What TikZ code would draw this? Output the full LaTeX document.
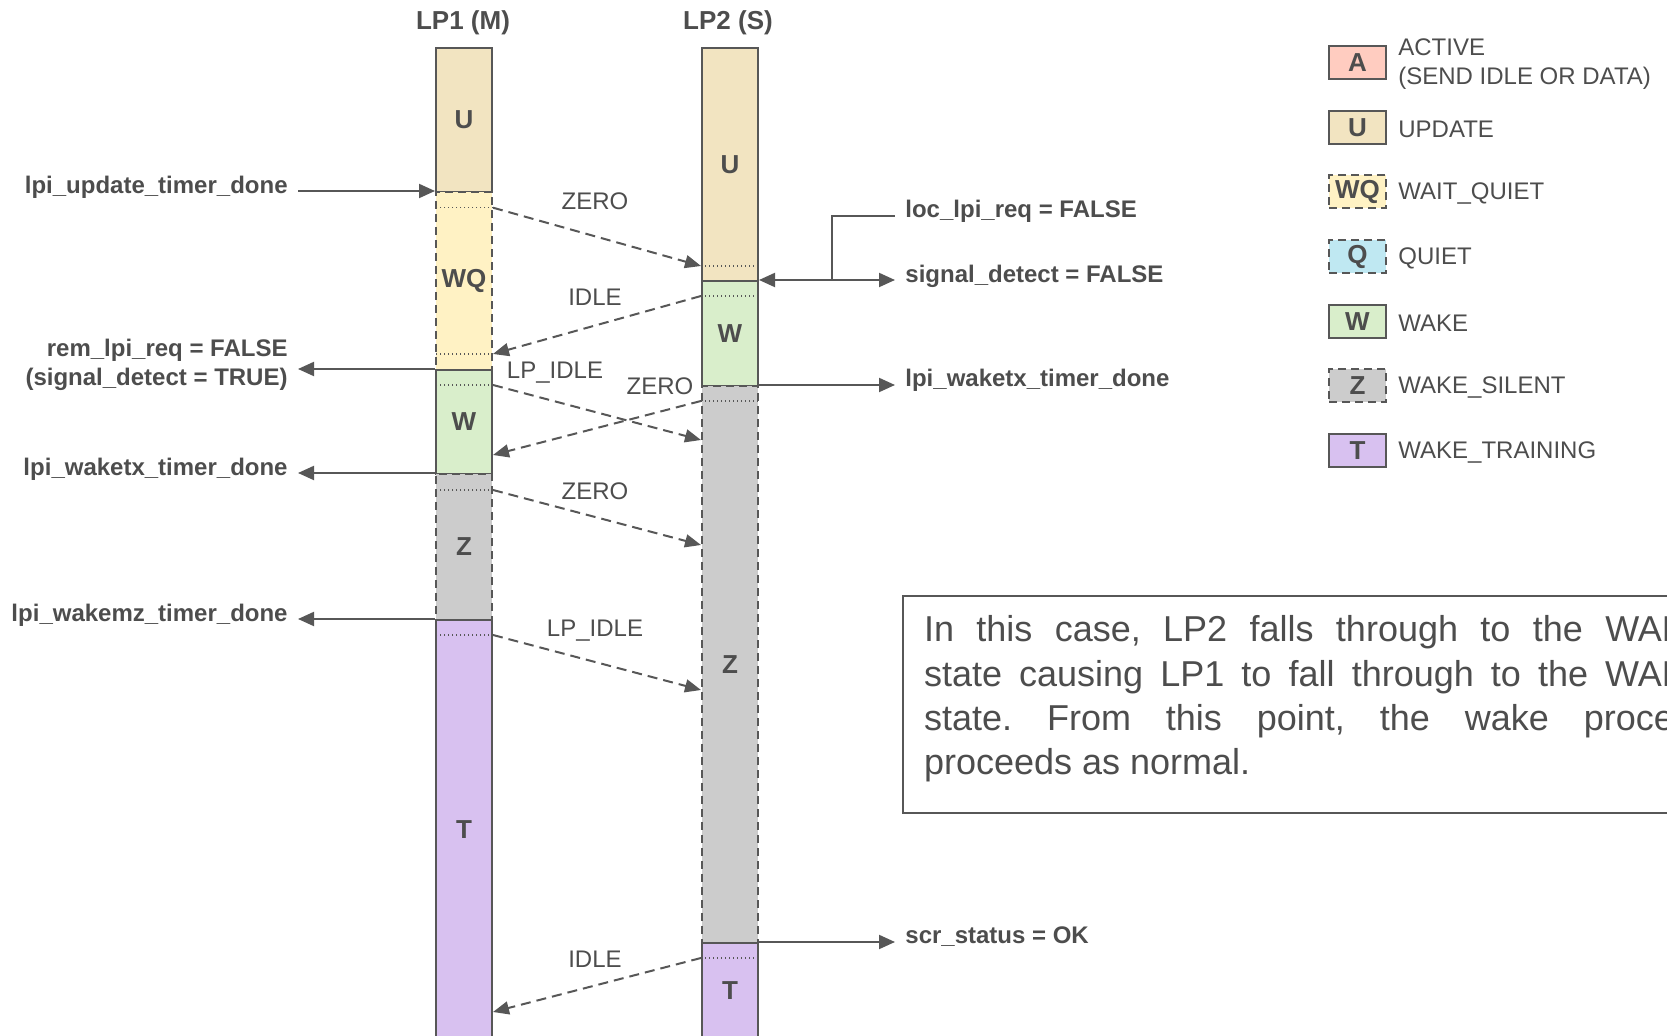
\documentclass[tikz,border=0pt]{standalone}
\usepackage{fontspec}
\setmainfont{Liberation Sans}
\usetikzlibrary{arrows.meta,calc}
\frenchspacing

\definecolor{ink}{HTML}{4D4D4D}
\definecolor{rule}{HTML}{575757}
\definecolor{fillA}{HTML}{FFCCC0}
\definecolor{fillU}{HTML}{F2E4C1}
\definecolor{fillWQ}{HTML}{FFF2C4}
\definecolor{fillQ}{HTML}{BFE8F2}
\definecolor{fillW}{HTML}{D9EECB}
\definecolor{fillZ}{HTML}{CCCCCC}
\definecolor{fillT}{HTML}{D8C1F0}

\tikzset{
  seg/.style={draw=rule,line width=1pt,minimum width=28pt,inner sep=0pt,
    font=\fontsize{13}{13}\selectfont\bfseries},
  quiet/.style={dash pattern=on 4pt off 2.5pt},
  stA/.style={fill=fillA},
  stU/.style={fill=fillU},
  stWQ/.style={fill=fillWQ,quiet},
  stQ/.style={fill=fillQ,quiet},
  stW/.style={fill=fillW},
  stZ/.style={fill=fillZ,quiet},
  stT/.style={fill=fillT},
  tickline/.style={draw=rule,line width=0.6pt,dash pattern=on 0.6pt off 1.4pt},
  msg/.style={draw=rule,line width=1pt,dash pattern=on 5pt off 3pt,
    -{Triangle[length=8pt,width=6.5pt]}},
  sig/.style={draw=rule,line width=1pt,-{Triangle[length=8pt,width=7pt]}},
  sigboth/.style={draw=rule,line width=1pt,
    {Triangle[length=8pt,width=7pt]}-{Triangle[length=8pt,width=7pt]}},
  msglbl/.style={inner sep=0pt,font=\fontsize{12}{14.5}\selectfont},
  condlbl/.style={inner xsep=5pt,inner ysep=0pt,font=\fontsize{12}{14.5}\selectfont\bfseries},
  keytxt/.style={inner sep=0pt,align=left,font=\fontsize{12}{14.5}\selectfont},
}

% one state block of a timeline: name, style, left x, top y, bottom y, letter
\newcommand\stateseg[6]{%
  \node[seg,#2,minimum height={(#5-#4)*0.5pt},anchor=north west] (#1) at (#3,#4) {#6};}

\begin{document}
\begin{tikzpicture}[x=0.5pt,y=-0.5pt,text=ink]
  \useasboundingbox (0,0) rectangle (1667,1036);
  \clip (0,0) rectangle (1667,1036);

  % the two link partners
  \node[anchor=base,font=\fontsize{13}{13}\selectfont\bfseries] (lp1) at (463,29.5) {LP1 (M)};
  \node[anchor=base,font=\fontsize{13}{13}\selectfont\bfseries] (lp2) at (728,29.5) {LP2 (S)};

  \stateseg{m-u}{stU}{435}{47}{191}{U}
  \stateseg{m-wq}{stWQ}{435}{191}{369}{WQ}
  \stateseg{m-w}{stW}{435}{369}{473}{W}
  \stateseg{m-z}{stZ}{435}{473}{619}{Z}
  \stateseg{m-t}{stT}{435}{619}{1038}{T}

  \stateseg{s-u}{stU}{701}{47}{280}{U}
  \stateseg{s-w}{stW}{701}{280}{385}{W}
  \stateseg{s-z}{stZ}{701}{385}{942}{Z}
  \stateseg{s-t}{stT}{701}{942}{1038}{T}

  % where the codes leave and arrive
  \coordinate (m1) at ([yshift=-8.35pt]m-wq.north east);
  \coordinate (m2) at ([yshift=8.5pt]m-wq.south east);
  \coordinate (m3) at ([yshift=-8pt]m-w.north east);
  \coordinate (m4) at ([yshift=-43pt]m-w.north east);
  \coordinate (m5) at ([yshift=-8.5pt]m-z.north east);
  \coordinate (m6) at ([yshift=-8pt]m-t.north east);
  \coordinate (m7) at ([yshift=-196.5pt]m-t.north east);
  \coordinate (s1) at ([yshift=8pt]s-u.south west);
  \coordinate (s2) at ([yshift=-8pt]s-w.north west);
  \coordinate (s3) at ([yshift=-8pt]s-z.north west);
  \coordinate (s4) at ([yshift=-27.5pt]s-z.north west);
  \coordinate (s5) at ([yshift=-80pt]s-z.north west);
  \coordinate (s6) at ([yshift=-152.5pt]s-z.north west);
  \coordinate (s7) at ([yshift=-8pt]s-t.north west);

  \foreach \p/\q in {m1/m-wq,m2/m-wq,m3/m-w,m5/m-z,m6/m-t}
    \draw[tickline] (\p) -- (\p -| \q.west);
  \foreach \p/\q in {s1/s-u,s2/s-w,s3/s-z,s7/s-t}
    \draw[tickline] (\p) -- (\p -| \q.east);

  % codes on the wire
  \draw[msg] (m1) -- (s1);
  \draw[msg] (s2) -- (m2);
  \draw[msg] (m3) -- (s4);
  \draw[msg] (s3) -- (m4);
  \draw[msg] (m5) -- (s5);
  \draw[msg] (m6) -- (s6);
  \draw[msg] (s7) -- (m7);

  \node[msglbl] (c1) at (595,201) {ZERO};
  \node[msglbl] (c2) at (595,297.5) {IDLE};
  \node[msglbl] (c3) at (555,373) {LP\_IDLE};
  \node[msglbl] (c4) at (660,386) {ZERO};
  \node[msglbl] (c5) at (595,491) {ZERO};
  \node[msglbl] (c6) at (595,631) {LP\_IDLE};
  \node[msglbl] (c7) at (595,959) {IDLE};

  % LP1 conditions
  \node[condlbl,anchor=base east] (upd) at (298,194) {lpi\_update\_timer\_done};
  \node[condlbl,anchor=east,align=right] (rem) at (298,365)
        {rem\_lpi\_req = FALSE\\(signal\_detect = TRUE)};
  \node[condlbl,anchor=base east] (wtx) at (298,476) {lpi\_waketx\_timer\_done};
  \node[condlbl,anchor=base east] (wmz) at (298,621.5) {lpi\_wakemz\_timer\_done};

  \draw[sig] (upd.east |- m-wq.north west) -- (m-wq.north west);
  \draw[sig] (m-w.north west) -- (rem.east |- m-w.north west);
  \draw[sig] (m-z.north west) -- (wtx.east |- m-z.north west);
  \draw[sig] (m-t.north west) -- (wmz.east |- m-t.north west);

  % LP2 conditions
  \node[condlbl,anchor=base west] (loc) at (895,218) {loc\_lpi\_req = FALSE};
  \node[condlbl,anchor=base west] (sdet) at (895,283) {signal\_detect = FALSE};
  \node[condlbl,anchor=base west] (wtx2) at (895,387) {lpi\_waketx\_timer\_done};
  \node[condlbl,anchor=base west] (scr) at (895,944) {scr\_status = OK};

  \draw[sigboth] (s-w.north east) -- (sdet.west |- s-w.north east);
  \coordinate (jn) at ($(s-w.north east)+(73,0)$);
  \draw[draw=rule,line width=1pt] (jn) |- ([yshift=1pt]loc.base west);
  \draw[sig] (s-z.north east) -- (wtx2.west |- s-z.north east);
  \draw[sig] (s-t.north east) -- (scr.west |- s-t.north east);

  % key
  \foreach \i/\ltr/\sty/\txt in {0/A/stA/{ACTIVE\\(SEND IDLE OR DATA)},1/U/stU/UPDATE,
      2/WQ/stWQ/WAIT\_QUIET,3/Q/stQ/QUIET,4/W/stW/WAKE,5/Z/stZ/WAKE\_SILENT,
      6/T/stT/WAKE\_TRAINING}{
    \node[seg,\sty,minimum width=28.5pt,minimum height=16.5pt] (key-\i)
      at (1357.5,{62.5+64.7*\i}) {\ltr};
    \node[keytxt,anchor=west] (keytxt-\i) at (1398,{64.5+64.7*\i}) {\txt};
  }

  % note
  \node[draw=rule,line width=1pt,anchor=north west,minimum height=108.5pt,
        inner xsep=10.5pt,inner ysep=0pt,align=left,
        font=\fontsize{18}{22.2}\selectfont] (note) at (902,595)
    {\makebox[393pt][s]{In this case, LP2 falls through to the WAKE}\\
     \makebox[393pt][s]{state causing LP1 to fall through to the WAKE}\\
     \makebox[393pt][s]{state. From this point, the wake process}\\
     proceeds as normal.\rule[-9.2pt]{0pt}{0pt}};
\end{tikzpicture}
\end{document}
